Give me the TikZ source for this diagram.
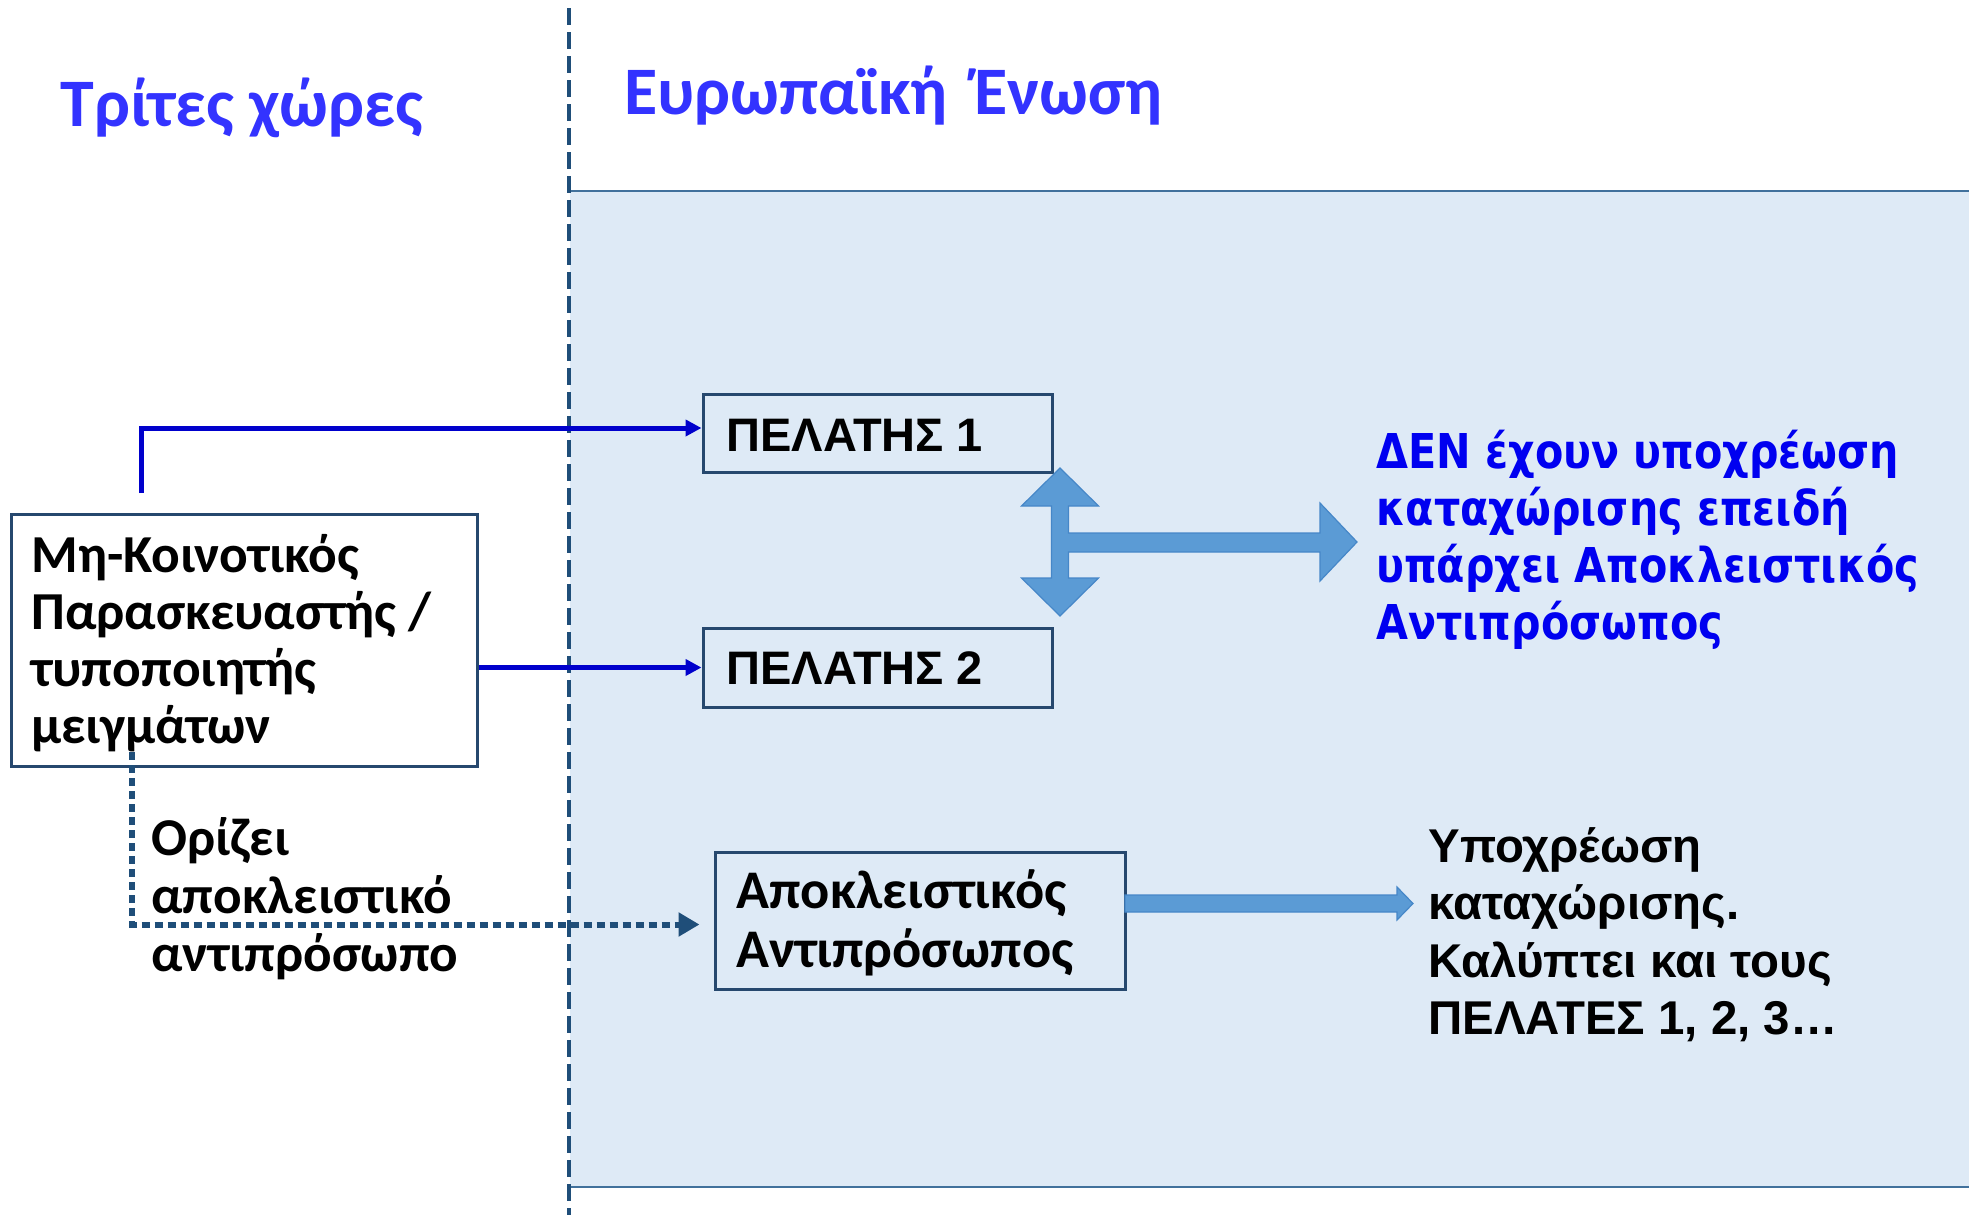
\documentclass[tikz,border=0pt]{standalone}
\usepackage{fontspec}
\newfontfamily\calfont{Carlito}
\newfontfamily\arifont{Liberation Sans}
\newfontfamily\dvfont{DejaVu Sans}[FakeStretch=0.86]
\usetikzlibrary{arrows.meta}
\definecolor{titleblue}{RGB}{51,51,255}
\definecolor{txtblue}{RGB}{0,0,240}
\definecolor{arrblue}{RGB}{0,0,204}
\definecolor{dkblue}{RGB}{31,78,121}
\definecolor{boxline}{RGB}{38,72,110}
\definecolor{euFill}{RGB}{222,234,246}
\definecolor{euLine}{RGB}{65,113,156}
\definecolor{blkFill}{RGB}{91,155,213}
\definecolor{blkEdge}{RGB}{70,135,200}
\begin{document}
\begin{tikzpicture}[x=0.5pt,y=-0.5pt,
  boxnode/.style={draw=boxline,line width=1.5pt,rectangle,inner sep=0pt},
  txt/.style={anchor=base west,inner sep=0pt},
  solidarrow/.style={draw=arrblue,line width=2.5pt,-{Triangle[length=8pt,width=8pt]}},
  dotarrow/.style={draw=dkblue,line width=3pt,dash pattern=on 4pt off 2.5pt,-{Triangle[length=10.5pt,width=11.5pt]}},
  divider/.style={draw=dkblue,line width=2pt,dash pattern=on 8.5pt off 3.5pt},
  blockarrow/.style={fill=blkFill,draw=blkEdge,line width=0.6pt,line join=miter}]
\useasboundingbox (0,0) rectangle (1969,1215);
% EU region
\fill[euFill] (570,191) rectangle (1969,1187);
\draw[euLine,line width=1.3pt] (569,191) -- (1969,191);
\draw[euLine,line width=1.3pt] (569,1187) -- (1969,1187);
\coordinate (dtop) at (569,8);
\coordinate (dbot) at (569,1215);
\draw[divider] (dtop) -- (dbot);
% titles
\node[txt,text=titleblue] (t1) at (60,126) {\calfont\bfseries\fontsize{34}{40}\selectfont Τρίτες χώρες};
\node[txt,text=titleblue] (t2) at (624,114) {\calfont\bfseries\fontsize{34}{40}\selectfont Ευρωπαϊκή \,Ένωση};
% boxes
\node[boxnode,fill=white,minimum width=233pt,minimum height=126pt] (mfr) at (244,640) {};
\node[boxnode,minimum width=174.5pt,minimum height=39pt] (p1) at (877.5,433) {};
\node[boxnode,minimum width=174.5pt,minimum height=39.5pt] (p2) at (877.5,667.5) {};
\node[boxnode,minimum width=205pt,minimum height=68.5pt] (ar) at (920,920.5) {};
% box texts
\node[txt] (mfrt) at (31,572) {\parbox[t]{225pt}{\calfont\bfseries\fontsize{26.7}{28.5}\selectfont Μη-Κοινοτικός\\Παρασκευαστής /\\τυποποιητής\\μειγμάτων}};
\node[txt] (p1t) at (726,451) {\arifont\bfseries\fontsize{23.5}{28}\selectfont ΠΕΛΑΤΗΣ 1};
\node[txt] (p2t) at (726,684) {\arifont\bfseries\fontsize{23.5}{28}\selectfont ΠΕΛΑΤΗΣ 2};
\node[txt] (art) at (736,908) {\parbox[t]{200pt}{\calfont\bfseries\fontsize{27.2}{29.5}\selectfont Αποκλειστικός\\Αντιπρόσωπος}};
\node[txt] (ort) at (151,855) {\parbox[t]{200pt}{\calfont\bfseries\fontsize{26.6}{29}\selectfont Ορίζει\\αποκλειστικό\\αντιπρόσωπο}};
\node[txt,text=txtblue] (dent) at (1376,468) {\parbox[t]{300pt}{\dvfont\bfseries\fontsize{24}{28.5}\selectfont ΔΕΝ έχουν υποχρέωση\\καταχώρισης επειδή\\υπάρχει Αποκλειστικός\\Αντιπρόσωπος}};
\node[txt] (ypt) at (1428,862) {\parbox[t]{260pt}{\arifont\bfseries\fontsize{23.7}{28.8}\selectfont Υποχρέωση\\καταχώρισης.\\Καλύπτει και τους\\ΠΕΛΑΤΕΣ 1, 2, 3…}};
% connectors
\coordinate (a1) at (141,493);
\draw[solidarrow] (a1) |- ([yshift=2.5pt]p1.west);
\draw[solidarrow] (p2.west -| mfr.east) -- (p2.west);
\coordinate (dstart) at (132,752);
\draw[dotarrow] (dstart) |- ([xshift=-7pt,yshift=-2pt]ar.west);
% cross block arrow
\draw[blockarrow] (1060,468) -- (1098.5,506) -- (1068.5,506) -- (1068.5,533) -- (1320,533) -- (1320,503) -- (1357,542) -- (1320,581) -- (1320,552) -- (1068.5,552) -- (1068.5,578) -- (1098.5,578) -- (1060,616) -- (1021.5,578) -- (1051.5,578) -- (1051.5,506) -- (1021.5,506) -- cycle;
% block arrow from exclusive representative
\draw[blockarrow] (1125,895) -- (1397,895) -- (1397,887) -- (1413,903.5) -- (1397,920) -- (1397,912) -- (1125,912) -- cycle;
\end{tikzpicture}
\end{document}
